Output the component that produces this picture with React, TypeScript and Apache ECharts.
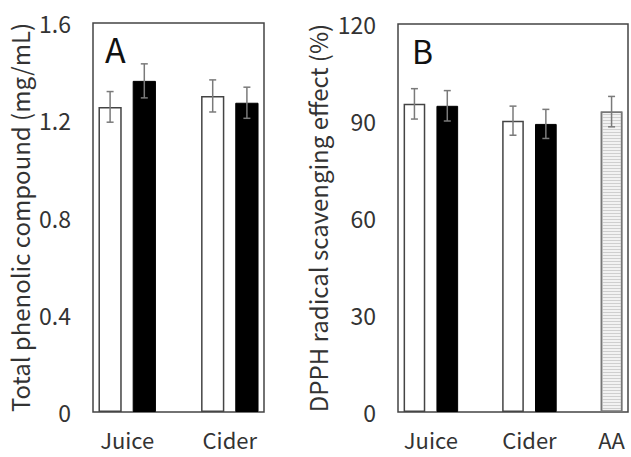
import React, { useEffect, useRef } from "react";
import * as echarts from "echarts";

// Panel A: Total phenolic compound (mg/mL)
const categoriesA = ["Juice", "Cider"];
const controlA = [1.255, 1.3];
const controlErrA = [0.063, 0.066];
const treatedA = [1.362, 1.272];
const treatedErrA = [0.07, 0.064];
const ticksA = [0, 0.4, 0.8, 1.2, 1.6];

// Panel B: DPPH radical scavenging effect (%)
const categoriesB = ["Juice", "Cider", "AA"];
const controlB = [95.3, 90.1];
const controlErrB = [4.7, 4.5];
const treatedB = [94.7, 89.1];
const treatedErrB = [4.7, 4.5];
const aaB = [92.9];
const aaErrB = [4.7];
const ticksB = [0, 30, 60, 90, 120];

const FONT = "'Noto Sans CJK KR', 'Noto Sans', sans-serif";
const TEXT = "#333";

const whiteStyle = { color: "#ffffff", borderColor: "#444", borderWidth: 1.5 };
const blackStyle = { color: "#000000", borderColor: "#000", borderWidth: 1 };
const aaStyle = {
  color: "#f2f2f2",
  borderColor: "#777",
  borderWidth: 1.5,
  decal: {
    symbol: "rect",
    symbolSize: 1,
    dashArrayX: [1, 0],
    dashArrayY: [1, 2],
    rotation: 0,
    color: "#cfcfcf",
    backgroundColor: "#f2f2f2",
  },
};

type Group = { name: string; bars: { v: number; e: number; style: any }[] };

function buildSlots(groups: Group[]) {
  const barData: any[] = [];
  const errData: number[][] = [];
  const labelPos: { pos: number; name: string }[] = [];
  groups.forEach((g, gi) => {
    if (gi > 0) barData.push("-");
    const start = barData.length;
    g.bars.forEach((b) => {
      const idx = barData.length;
      barData.push({ value: b.v, itemStyle: b.style });
      errData.push([idx, b.v, b.e]);
    });
    labelPos.push({ pos: start + g.bars.length / 2, name: g.name });
  });
  return { barData, errData, labelPos, n: barData.length };
}

const groupsA: Group[] = categoriesA.map((name, i) => ({
  name,
  bars: [
    { v: controlA[i], e: controlErrA[i], style: whiteStyle },
    { v: treatedA[i], e: treatedErrA[i], style: blackStyle },
  ],
}));

const groupsB: Group[] = categoriesB.map((name, i) => ({
  name,
  bars:
    name === "AA"
      ? [{ v: aaB[0], e: aaErrB[0], style: aaStyle }]
      : [
          { v: controlB[i], e: controlErrB[i], style: whiteStyle },
          { v: treatedB[i], e: treatedErrB[i], style: blackStyle },
        ],
}));

const slotsA = buildSlots(groupsA);
const slotsB = buildSlots(groupsB);

function errRender(params: any, api: any) {
  const x = api.value(0);
  const y = api.value(1);
  const e = api.value(2);
  const hi = api.coord([x, y + e]);
  const lo = api.coord([x, y - e]);
  const cap = 3.5;
  const style = { stroke: "#7a7a7a", lineWidth: 1.5 };
  return {
    type: "group",
    children: [
      { type: "line", shape: { x1: hi[0], y1: hi[1], x2: lo[0], y2: lo[1] }, style },
      { type: "line", shape: { x1: hi[0] - cap, y1: hi[1], x2: hi[0] + cap, y2: hi[1] }, style },
      { type: "line", shape: { x1: lo[0] - cap, y1: lo[1], x2: lo[0] + cap, y2: lo[1] }, style },
    ],
  };
}

function labelFormatter(labelPos: { pos: number; name: string }[]) {
  return (v: number) => {
    const f = labelPos.find((l) => Math.abs(l.pos - v) < 1e-6);
    return f ? f.name : "";
  };
}

export default function App() {
  const ref = useRef<HTMLDivElement>(null);
  useEffect(() => {
    if (!ref.current) return;
    const chart = echarts.init(ref.current, null, { renderer: "svg" });
    const hiddenCat = (gridIndex: number, n: number) => ({
      type: "category",
      gridIndex,
      position: "bottom",
      data: Array.from({ length: n }, (_, i) => String(i)),
      axisLine: { show: false },
      axisTick: { show: false },
      axisLabel: { show: false },
      splitLine: { show: false },
    });
    const labelAxis = (gridIndex: number, n: number, labelPos: any) => ({
      type: "value",
      gridIndex,
      position: "bottom",
      offset: 0,
      min: 0,
      max: n,
      interval: 0.5,
      axisLine: { show: false },
      axisTick: { show: false },
      splitLine: { show: false },
      axisLabel: {
        show: true,
        margin: 15,
        lineHeight: 24,
        formatter: labelFormatter(labelPos),
        fontFamily: FONT,
        fontSize: 22,
        color: TEXT,
        showMinLabel: true,
        showMaxLabel: true,
      },
    });
    const yAxis = (gridIndex: number, ticks: number[], name: string, nameGap: number) => ({
      type: "value",
      gridIndex,
      min: ticks[0],
      max: ticks[ticks.length - 1],
      interval: ticks[1] - ticks[0],
      name,
      nameLocation: "middle",
      nameGap,
      nameTextStyle: { fontFamily: FONT, fontSize: 24, color: TEXT },
      axisLine: { show: false },
      axisTick: { show: false },
      splitLine: { show: false },
      axisLabel: { margin: 22, fontFamily: FONT, fontSize: 23, color: TEXT },
    });
    chart.setOption({
      animation: false,
      backgroundColor: "#ffffff",
      title: [
        { text: "A", left: 100, top: 26, textStyle: { fontFamily: FONT, fontSize: 34, fontWeight: "normal", color: "#111" } },
        { text: "B", left: 407, top: 29, textStyle: { fontFamily: FONT, fontSize: 32, fontWeight: "normal", color: "#111" } },
      ],
      grid: [
        { left: 93, right: 367, top: 23, bottom: 45, show: true, borderColor: "#444", borderWidth: 1.5, backgroundColor: "transparent" },
        { left: 398, right: 2, top: 24, bottom: 45, show: true, borderColor: "#444", borderWidth: 1.5, backgroundColor: "transparent" },
      ],
      xAxis: [
        hiddenCat(0, slotsA.n),
        labelAxis(0, slotsA.n, slotsA.labelPos),
        hiddenCat(1, slotsB.n),
        labelAxis(1, slotsB.n, slotsB.labelPos),
      ],
      yAxis: [
        yAxis(0, ticksA, "Total phenolic compound (mg/mL)", 62),
        yAxis(1, ticksB, "DPPH radical scavenging effect (%)", 69),
      ],
      series: [
        { type: "bar", xAxisIndex: 0, yAxisIndex: 0, data: slotsA.barData, barWidth: "68%" },
        { type: "custom", xAxisIndex: 0, yAxisIndex: 0, data: slotsA.errData, renderItem: errRender, z: 5 },
        { type: "bar", xAxisIndex: 2, yAxisIndex: 1, data: slotsB.barData, barWidth: "66%" },
        { type: "custom", xAxisIndex: 2, yAxisIndex: 1, data: slotsB.errData, renderItem: errRender, z: 5 },
      ],
    });
    return () => chart.dispose();
  }, []);
  return (
    <div
      ref={ref}
      style={{ position: "absolute", left: 0, top: 0, width: 631, height: 457 }}
    />
  );
}
